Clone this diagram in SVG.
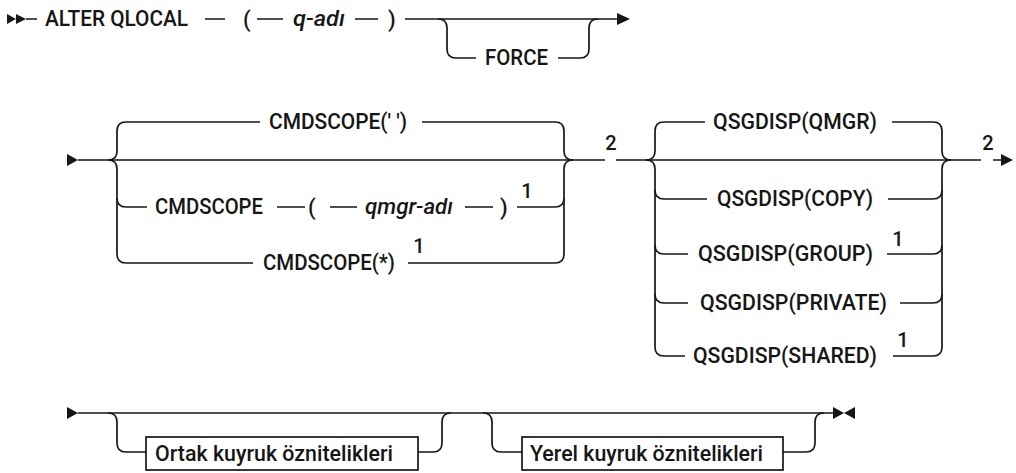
<svg xmlns="http://www.w3.org/2000/svg" width="1016" height="473" viewBox="0 0 1016 473">
<style>
.ln{fill:none;stroke:#161616;stroke-width:1.7}
.t{font-family:Roboto,"Liberation Sans",Arial,sans-serif;font-size:22px;font-weight:500;fill:#161616}
.i{font-style:italic}
.n{font-family:Roboto,"Liberation Sans",Arial,sans-serif;font-size:20px;font-weight:500;fill:#161616;text-anchor:middle}
.ar{fill:#161616}
.box{fill:#fff;stroke:#161616;stroke-width:1.7}
</style>
<rect width="1016" height="473" fill="#fff"/>
<g id="connectors">
<path class="ln" d="M26,19 L37,19 M205,19 L225,19 M257,19 L283,19 M355,19 L378,19 M405,19 L617,19"/>
<path class="ln" d="M438,19 Q447,19 447,28 L447,49 Q447,58 456,58 L476,58 M558,58 L580,58 Q589,58 589,49 L589,28 Q589,19 598,19"/>
<path class="ln" d="M78,160 L605,160 M616,160 L981,160 M993,160 L1001,160"/>
<path class="ln" d="M108,160 Q117,160 117,151 L117,131 Q117,122 126,122 L260,122 M422,122 L555,122 Q564,122 564,131 L564,151 Q564,160 573,160"/>
<path class="ln" d="M108,160 Q117,160 117,169 L117,254 Q117,263 126,263 L253,263 M408,263 L555,263 Q564,263 564,254 L564,169 Q564,160 573,160"/>
<path class="ln" d="M117,198 Q117,207 126,207 L147,207 M277,207 L305,207 M330,207 L357,207 M465,207 L493,207 M517,207 L555,207 Q564,207 564,198"/>
<path class="ln" d="M646,160 Q655,160 655,151 L655,131 Q655,122 664,122 L705,122 M892,122 L933,122 Q942,122 942,131 L942,151 Q942,160 951,160"/>
<path class="ln" d="M646,160 Q655,160 655,169 L655,347 Q655,356 664,356 L685,356 M893,356 L933,356 Q942,356 942,347 L942,169 Q942,160 951,160"/>
<path class="ln" d="M655,190 Q655,199 664,199 L707,199 M888,199 L933,199 Q942,199 942,190"/>
<path class="ln" d="M655,245 Q655,254 664,254 L688,254 M887,254 L933,254 Q942,254 942,245"/>
<path class="ln" d="M655,294 Q655,303 664,303 L688,303 M900,303 L933,303 Q942,303 942,294"/>
<path class="ln" d="M78,413 L833,413"/>
<path class="ln" d="M108,413 Q117,413 117,422 L117,443 Q117,452 126,452 L146,452 M418,452 L433,452 Q442,452 442,443 L442,422 Q442,413 451,413"/>
<path class="ln" d="M483,413 Q492,413 492,422 L492,443 Q492,452 501,452 L522,452 M783,452 L806,452 Q815,452 815,443 L815,422 Q815,413 824,413"/>
<polygon class="ar" points="7,14 16,19 7,24"/>
<polygon class="ar" points="16,14 26,19 16,24"/>
<polygon class="ar" points="617,13 630,19 617,25"/>
<polygon class="ar" points="67,154 78,160 67,166"/>
<polygon class="ar" points="1001,154 1013,160 1001,166"/>
<polygon class="ar" points="67,407 78,413 67,419"/>
<polygon class="ar" points="833,407 844,413 833,419"/>
<polygon class="ar" points="855,407 844,413 855,419"/>
</g>
<g id="alter-qlocal"><text class="t" x="45" y="26" textLength="143" lengthAdjust="spacingAndGlyphs">ALTER QLOCAL</text></g>
<g id="q-adi">
<text class="t" x="243" y="27">(</text>
<text class="t i" x="293" y="26" textLength="52" lengthAdjust="spacingAndGlyphs">q-adı</text>
<text class="t" x="388" y="27">)</text>
</g>
<g id="force"><text class="t" x="485" y="65" textLength="63" lengthAdjust="spacingAndGlyphs">FORCE</text></g>
<g id="cmdscope-blank"><text class="t" x="269" y="129" textLength="138" lengthAdjust="spacingAndGlyphs">CMDSCOPE(' ')</text></g>
<g id="cmdscope-qmgr">
<text class="t" x="155" y="214" textLength="108" lengthAdjust="spacingAndGlyphs">CMDSCOPE</text>
<text class="t" x="308" y="215">(</text>
<text class="t i" x="365" y="214" textLength="88" lengthAdjust="spacingAndGlyphs">qmgr-adı</text>
<text class="t" x="500" y="215">)</text>
<text class="n" x="527" y="198">1</text>
</g>
<g id="cmdscope-star">
<text class="t" x="263" y="270" textLength="132" lengthAdjust="spacingAndGlyphs">CMDSCOPE(*)</text>
<text class="n" x="419" y="253">1</text>
</g>
<g id="note-2a"><text class="n" x="611" y="150">2</text></g>
<g id="qsgdisp-qmgr"><text class="t" x="713" y="129" textLength="164" lengthAdjust="spacingAndGlyphs">QSGDISP(QMGR)</text></g>
<g id="qsgdisp-copy"><text class="t" x="717" y="206" textLength="156" lengthAdjust="spacingAndGlyphs">QSGDISP(COPY)</text></g>
<g id="qsgdisp-group">
<text class="t" x="698" y="261" textLength="175" lengthAdjust="spacingAndGlyphs">QSGDISP(GROUP)</text>
<text class="n" x="898" y="246">1</text>
</g>
<g id="qsgdisp-private"><text class="t" x="700" y="310" textLength="187" lengthAdjust="spacingAndGlyphs">QSGDISP(PRIVATE)</text></g>
<g id="qsgdisp-shared">
<text class="t" x="693" y="363" textLength="184" lengthAdjust="spacingAndGlyphs">QSGDISP(SHARED)</text>
<text class="n" x="903" y="347">1</text>
</g>
<g id="note-2b"><text class="n" x="988" y="150">2</text></g>
<g id="ortak">
<rect class="box" x="146" y="437" width="272" height="33"/>
<text class="t" x="155" y="461" textLength="238" lengthAdjust="spacingAndGlyphs">Ortak kuyruk öznitelikleri</text>
</g>
<g id="yerel">
<rect class="box" x="522" y="437" width="261" height="33"/>
<text class="t" x="530" y="461" textLength="233" lengthAdjust="spacingAndGlyphs">Yerel kuyruk öznitelikleri</text>
</g>
</svg>
